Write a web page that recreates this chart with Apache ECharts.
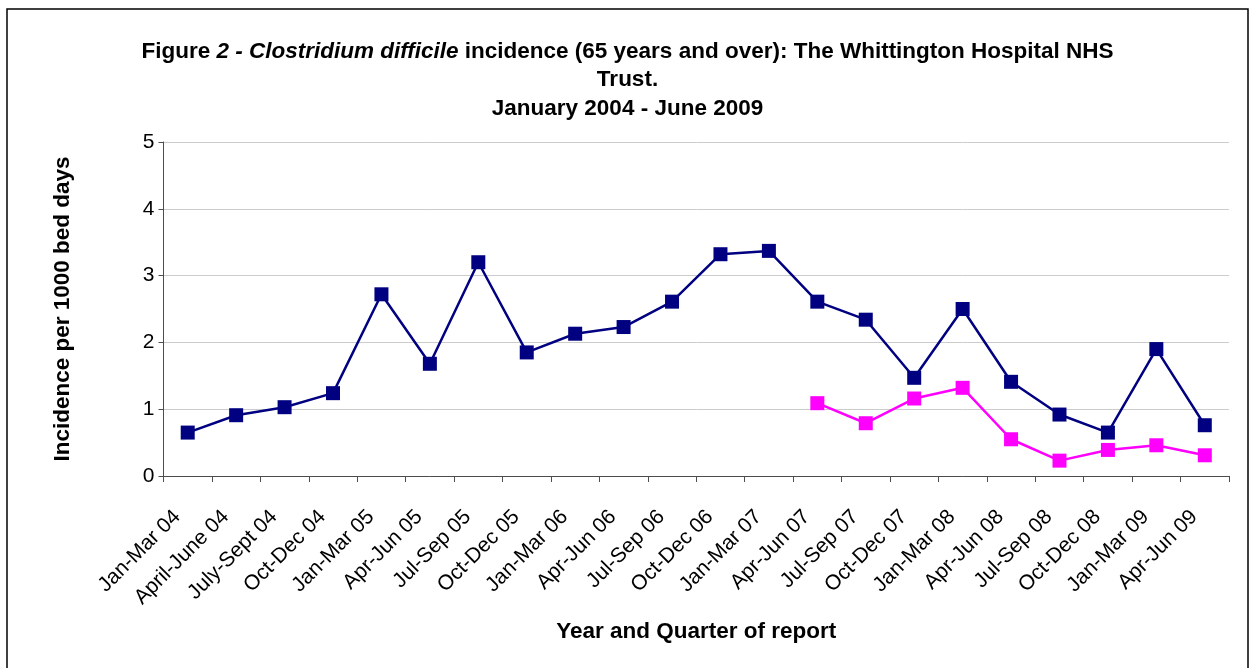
<!DOCTYPE html>
<html>
<head>
<meta charset="utf-8">
<script src="https://cdn.jsdelivr.net/npm/echarts@6/dist/echarts.min.js"></script>
<style>
  html, body { margin: 0; padding: 0; background: #ffffff; }
  #chart { width: 1252px; height: 668px; }
</style>
</head>
<body>
<div id="chart"></div>
<script>
// Quarterly reporting periods
const quarters = [
  'Jan-Mar 04', 'April-June 04', 'July-Sept 04', 'Oct-Dec 04',
  'Jan-Mar 05', 'Apr-Jun 05', 'Jul-Sep 05', 'Oct-Dec 05',
  'Jan-Mar 06', 'Apr-Jun 06', 'Jul-Sep 06', 'Oct-Dec 06',
  'Jan-Mar 07', 'Apr-Jun 07', 'Jul-Sep 07', 'Oct-Dec 07',
  'Jan-Mar 08', 'Apr-Jun 08', 'Jul-Sep 08', 'Oct-Dec 08',
  'Jan-Mar 09', 'Apr-Jun 09'
];

// Incidence per 1000 bed days, Whittington Hospital NHS Trust
const trustIncidence = [
  0.65, 0.91, 1.03, 1.24, 2.72, 1.68, 3.20, 1.85, 2.13, 2.23, 2.61,
  3.32, 3.37, 2.61, 2.34, 1.47, 2.50, 1.41, 0.92, 0.65, 1.90, 0.76
];

// Second series, reported from Apr-Jun 07 onwards
const secondIncidence = [
  null, null, null, null, null, null, null, null, null, null, null,
  null, null, 1.09, 0.79, 1.16, 1.32, 0.55, 0.23, 0.39, 0.46, 0.31
];

const yTicks = { min: 0, max: 5, interval: 1 };

const FONT = 'Arial, "Liberation Sans", sans-serif';

const chart = echarts.init(document.getElementById('chart'), null, { renderer: 'canvas' });

chart.setOption({
  backgroundColor: '#ffffff',
  animation: false,
  graphic: [
    {
      type: 'rect',
      shape: { x: 7, y: 9, width: 1241, height: 700 },
      style: { fill: 'none', stroke: '#000000', lineWidth: 1.5 },
      silent: true
    },
    {
      type: 'text',
      x: 627.5, y: 51.5,
      style: {
        text: '{b|Figure }{i|2 - Clostridium difficile}{b| incidence (65 years and over): The Whittington Hospital NHS}',
        textAlign: 'center',
        textVerticalAlign: 'middle',
        fill: '#000000',
        rich: {
          b: { fontFamily: FONT, fontSize: 22.5, fontWeight: 'bold', fill: '#000000' },
          i: { fontFamily: FONT, fontSize: 22.5, fontWeight: 'bold', fontStyle: 'italic', fill: '#000000' }
        }
      }
    },
    {
      type: 'text',
      x: 627.5, y: 80,
      style: {
        text: 'Trust.',
        textAlign: 'center', textVerticalAlign: 'middle',
        fontFamily: FONT, fontSize: 22.5, fontWeight: 'bold', fill: '#000000'
      }
    },
    {
      type: 'text',
      x: 627.5, y: 108.5,
      style: {
        text: 'January 2004 - June 2009',
        textAlign: 'center', textVerticalAlign: 'middle',
        fontFamily: FONT, fontSize: 22.5, fontWeight: 'bold', fill: '#000000'
      }
    }
  ],
  grid: {
    left: 163.5,
    right: 23,
    top: 142,
    bottom: 192,
    containLabel: false,
    outerBoundsMode: 'none'
  },
  xAxis: {
    type: 'category',
    data: quarters,
    boundaryGap: true,
    name: 'Year and Quarter of report',
    nameLocation: 'middle',
    nameGap: 144,
    nameMoveOverlap: false,
    nameTextStyle: { fontFamily: FONT, fontSize: 22.5, fontWeight: 'bold', color: '#000000' },
    axisLine: { show: true, lineStyle: { color: '#4d4d4d', width: 1 } },
    axisTick: { show: true, interval: 0, alignWithLabel: false, length: 6, lineStyle: { color: '#4d4d4d' } },
    axisLabel: {
      interval: 0,
      rotate: 45,
      margin: 27,
      padding: [0, 15, 0, 0],
      fontFamily: FONT,
      fontSize: 21,
      color: '#000000',
      hideOverlap: false
    },
    splitLine: { show: false }
  },
  yAxis: {
    type: 'value',
    min: yTicks.min,
    max: yTicks.max,
    interval: yTicks.interval,
    name: 'Incidence per 1000 bed days',
    nameLocation: 'middle',
    nameGap: 89,
    nameMoveOverlap: false,
    nameTextStyle: { fontFamily: FONT, fontSize: 22.5, fontWeight: 'bold', color: '#000000' },
    axisLine: { show: true, lineStyle: { color: '#4d4d4d', width: 1 } },
    axisTick: { show: true, length: 5, lineStyle: { color: '#4d4d4d' } },
    axisLabel: { fontFamily: FONT, fontSize: 21, color: '#000000', margin: 9 },
    splitLine: { show: true, lineStyle: { color: '#cccccc', width: 1 } }
  },
  series: [
    {
      name: 'Whittington',
      type: 'line',
      data: trustIncidence,
      symbol: 'rect',
      symbolSize: 14,
      lineStyle: { color: '#000080', width: 2.5 },
      itemStyle: { color: '#000080' },
      z: 2
    },
    {
      name: 'Second series',
      type: 'line',
      data: secondIncidence,
      connectNulls: false,
      symbol: 'rect',
      symbolSize: 14,
      lineStyle: { color: '#FF00FF', width: 2.5 },
      itemStyle: { color: '#FF00FF' },
      z: 3
    }
  ]
});
</script>
</body>
</html>
